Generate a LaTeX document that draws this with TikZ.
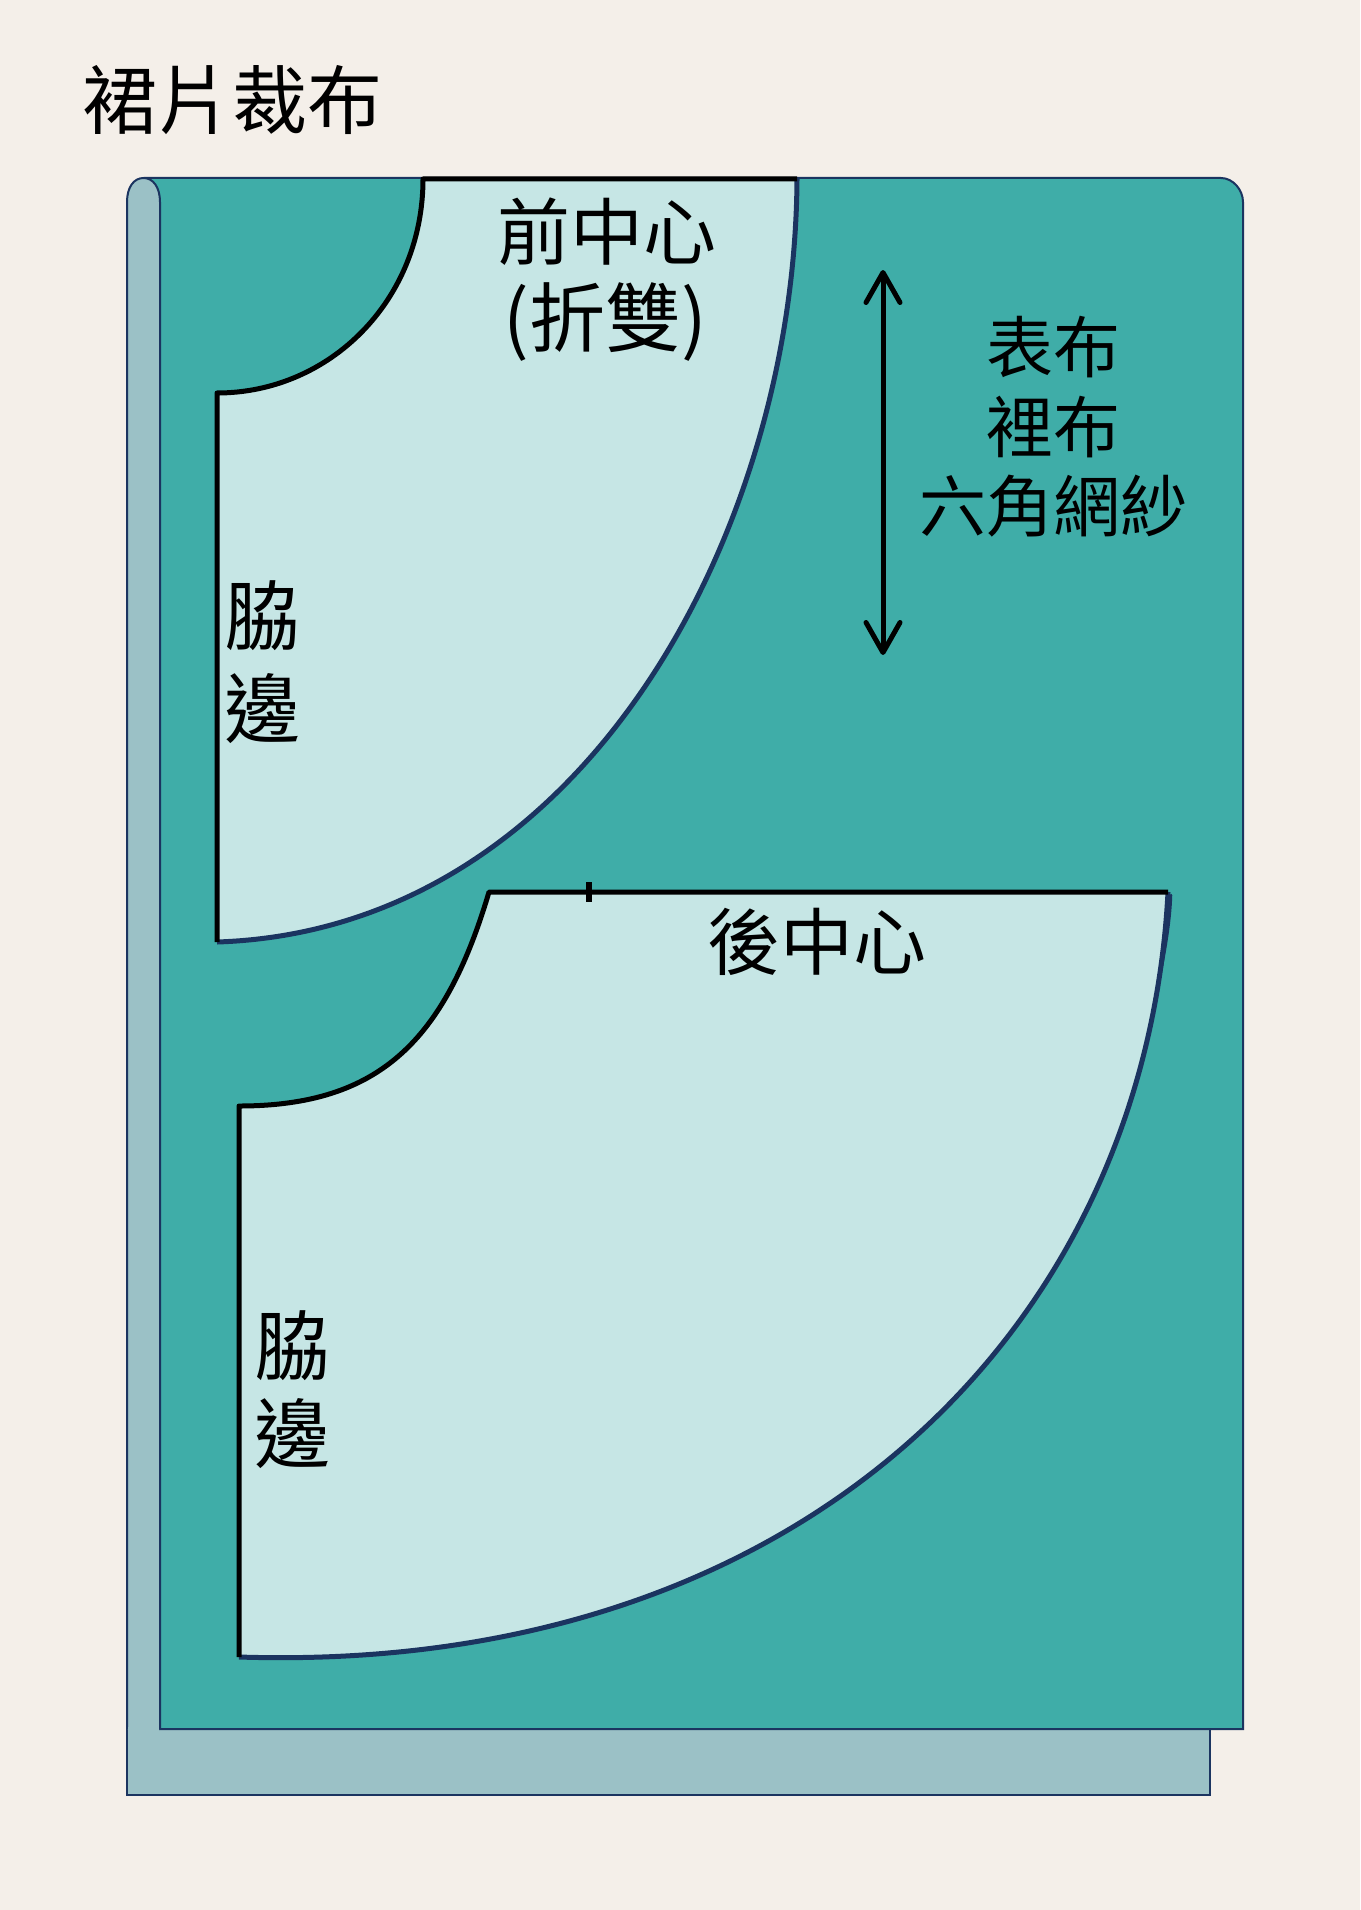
\documentclass[tikz,border=0pt]{standalone}
\usepackage{fontspec}
\setmainfont{Noto Sans CJK TC}
\usetikzlibrary{arrows.meta}
\definecolor{paperBg}{HTML}{F4EFE9}
\definecolor{fabricTop}{HTML}{3FADA8}
\definecolor{fabricBack}{HTML}{9BC1C6}
\definecolor{pieceFill}{HTML}{C6E6E5}
\definecolor{edgeBlue}{HTML}{1B3460}
\tikzset{
	panel/.style={draw=edgeBlue, line width=1pt, line join=miter},
	piece/.style={fill=pieceFill},
	seam/.style={draw=black, line width=2.5pt, line join=round},
	hem/.style={draw=edgeBlue, line width=2.5pt},
	word/.style={inner sep=0pt, text=black, font=\fontsize{36.5}{36.5}\selectfont},
	smallword/.style={inner sep=0pt, text=black, font=\fontsize{33.5}{33.5}\selectfont},
	sideword/.style={inner sep=0pt, text=black, font=\fontsize{38}{38}\selectfont},
}
\begin{document}
\begin{tikzpicture}[x=0.5pt, y=-0.5pt]
		\useasboundingbox (0,0) rectangle (1360,1910);
		\fill[paperBg] (0,0) rectangle (1360,1910);
		
		%Back layer
		\draw[panel, fill=fabricBack] (127,1795) -- (127,200) -- (1210,200) -- (1210,1795) -- cycle;
		
		%Top layer
		\draw[panel, fill=fabricTop] (145,1729) -- (145,178) -- (1221,178) .. controls (1233,178) and (1243,190) .. (1243,202) -- (1243,1729) -- cycle;
		
		%Left strip
		\draw[panel, fill=fabricBack] (160,1729) -- (160,202) .. controls (160,187) and (153,178) .. (143.5,178) .. controls (134,178) and (127,187) .. (127,202) -- (127,1729);
		\fill[fabricBack] (128,1727) rectangle (159,1731);
		
		%First piece
		\fill[piece] (423,179) -- (797,179) .. controls (795,530) and (585,930) .. (217,942) -- (217,393) .. controls (330,393) and (423,300) .. (423,179) -- cycle;
		\draw[hem] (797,179) .. controls (795,530) and (585,930) .. (217,942);
		\draw[seam] (217,942) -- (217,393) .. controls (330,393) and (423,300) .. (423,179) -- (797,179);
		
		%Second piece
		\fill[piece] (489,892) -- (1168,892) .. controls (1145,1330) and (800,1675) .. (239,1657) -- (239,1106) .. controls (380,1106) and (445,1040) .. (489,892) -- cycle;
		\draw[hem] (1168,892) .. controls (1145,1330) and (800,1675) .. (239,1657);
		\draw[draw=edgeBlue, line width=1.25pt, line cap=round] (1171,895) .. controls (1170,930) and (1161,972) .. (1153.5,1007);
		\draw[seam] (239,1657) -- (239,1106) .. controls (380,1106) and (445,1040) .. (489,892) -- (1168,892);
		\draw[line width=3pt] (589,882) -- (589,902);
		
		%Grain arrow
		\coordinate (arrowTop) at (883,270);
		\coordinate (arrowBottom) at (883,655);
		\draw[line width=2.5pt, {Straight Barb[round, length=15pt, width=17pt]}-{Straight Barb[round, length=15pt, width=17pt]}] (arrowTop) -- (arrowBottom);
		
		%Labels
		\node (title) at (232,100) [word, font=\fontsize{37.5}{37.5}\selectfont]{裙片裁布};
		\node (frontCentre) at (607,232) [word]{前中心};
		\node (frontFold) at (605,322) [word, font=\fontsize{38}{38}\selectfont]{(折雙)};
		\node (outerCloth) at (1053,347) [smallword]{表布};
		\node (liningCloth) at (1053,427) [smallword]{裡布};
		\node (tulleCloth) at (1053,506) [smallword]{六角網紗};
		\node (frontSideA) at (262,616) [sideword]{脇};
		\node (frontSideB) at (262,709) [sideword]{邊};
		\node (backCentre) at (817,942) [word]{後中心};
		\node (backSideA) at (292,1346) [sideword]{脇};
		\node (backSideB) at (292,1434) [sideword]{邊};
		
		\end{tikzpicture}
\end{document}
